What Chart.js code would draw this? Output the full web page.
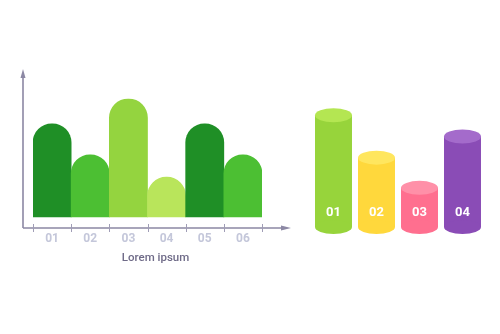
<!DOCTYPE html>
<html lang="en">
<head>
<meta charset="UTF-8">
<title>Bar infographic</title>
<script src="https://cdn.jsdelivr.net/npm/chart.js"></script>
<style>
    body {
        margin: 0;
        background: #fff;
        width: 500px;
        height: 334px;
        position: relative;
        overflow: hidden;
        font-family: Roboto, sans-serif;
    }
    .box { position: absolute; }
    #leftBox { left: 0; top: 60px; width: 300px; height: 210px; }
    #rightBox { left: 300px; top: 93px; width: 200px; height: 157px; }
</style>
</head>
<body>
<div class="box" id="leftBox"><canvas id="barChart"></canvas></div>
<div class="box" id="rightBox"><canvas id="cylChart"></canvas></div>
<script>
var barLabels = ['01', '02', '03', '04', '05', '06'];
var barValues = [75, 50, 95, 32, 75, 50];
var barColors = ['#1f8f26', '#4cbf33', '#94d43f', '#b9e55b', '#1f8f26', '#4cbf33'];
var axisTitle = 'Lorem ipsum';

var cylLabels = ['01', '02', '03', '04'];
var cylValues = [100, 62, 35, 81];
var cylColors = ['#97d43b', '#ffd83c', '#ff6f8f', '#8a4cb6'];
var cylTopColors = ['#b4e652', '#ffe65e', '#ff90a8', '#a46bcb'];

// axes with arrows, boundary ticks and labels for the left chart
var axisPlugin = {
    id: 'axisPlugin',
    afterDraw: function(chart) {
        var ctx = chart.ctx, a = chart.chartArea, xs = chart.scales.x;
        var ax = a.left - 10, ay = a.bottom;
        ctx.save();
        ctx.strokeStyle = '#8c88a4';
        ctx.fillStyle = '#8c88a4';
        ctx.lineWidth = 1.6;
        ctx.beginPath();
        ctx.moveTo(ax, ay);
        ctx.lineTo(ax, a.top + 8);
        ctx.moveTo(ax, ay);
        ctx.lineTo(a.right + 22, ay);
        ctx.stroke();
        // arrow heads
        ctx.beginPath();
        ctx.moveTo(ax, a.top + 1);
        ctx.lineTo(ax - 2.5, a.top + 10);
        ctx.lineTo(ax + 2.5, a.top + 10);
        ctx.closePath();
        ctx.fill();
        ctx.beginPath();
        ctx.moveTo(a.right + 29, ay);
        ctx.lineTo(a.right + 19, ay - 2.5);
        ctx.lineTo(a.right + 19, ay + 2.5);
        ctx.closePath();
        ctx.fill();
        // ticks between categories
        ctx.strokeStyle = '#a09db6';
        ctx.lineWidth = 1;
        for (var i = 0; i <= barLabels.length; i++) {
            var px = Math.round(xs.getPixelForValue(i - 0.5)) + 0.5;
            ctx.beginPath();
            ctx.moveTo(px, ay - 4);
            ctx.lineTo(px, ay + 4);
            ctx.stroke();
        }
        ctx.textAlign = 'center';
        ctx.textBaseline = 'middle';
        ctx.fillStyle = '#c4c7da';
        ctx.font = 'bold 12px Roboto, sans-serif';
        barLabels.forEach(function(lab, i) {
            ctx.fillText(lab, xs.getPixelForValue(i), ay + 11);
        });
        ctx.fillStyle = '#6f6b88';
        ctx.font = '500 11.5px Roboto, sans-serif';
        ctx.fillText(axisTitle, (a.left + a.right) / 2 + 8, ay + 30);
        ctx.restore();
    }
};

new Chart(document.getElementById('barChart'), {
    type: 'bar',
    data: {
        labels: barLabels,
        datasets: [{
            data: barValues,
            backgroundColor: barColors,
            borderWidth: 0,
            borderRadius: { topLeft: 19, topRight: 19 },
            borderSkipped: 'bottom',
            barPercentage: 1,
            categoryPercentage: 1
        }]
    },
    options: {
        responsive: true,
        maintainAspectRatio: false,
        animation: false,
        layout: { padding: { left: 33, right: 38, top: 8, bottom: 42 } },
        plugins: { legend: { display: false }, tooltip: { enabled: false } },
        scales: {
            x: { display: false, offset: true },
            y: { display: false, min: -9, max: 120 }
        }
    },
    plugins: [axisPlugin]
});

// ellipses on top and bottom of each bar turn it into a cylinder
var cylinderPlugin = {
    id: 'cylinderPlugin',
    afterDatasetsDraw: function(chart) {
        var ctx = chart.ctx;
        var meta = chart.getDatasetMeta(0);
        ctx.save();
        meta.data.forEach(function(bar, i) {
            var p = bar.getProps(['x', 'y', 'base', 'width'], true);
            var rx = p.width / 2, ry = 7;
            ctx.fillStyle = cylColors[i];
            ctx.beginPath();
            ctx.ellipse(p.x, p.base, rx, ry, 0, 0, Math.PI * 2);
            ctx.fill();
            ctx.fillStyle = cylTopColors[i];
            ctx.beginPath();
            ctx.ellipse(p.x, p.y, rx, ry, 0, 0, Math.PI * 2);
            ctx.fill();
            ctx.fillStyle = '#ffffff';
            ctx.font = 'bold 13px Roboto, sans-serif';
            ctx.textAlign = 'center';
            ctx.textBaseline = 'middle';
            ctx.fillText(cylLabels[i], p.x, p.base - 14);
        });
        ctx.restore();
    }
};

new Chart(document.getElementById('cylChart'), {
    type: 'bar',
    data: {
        labels: cylLabels,
        datasets: [{
            data: cylValues,
            backgroundColor: cylColors,
            borderWidth: 0,
            barPercentage: 0.86,
            categoryPercentage: 1
        }]
    },
    options: {
        responsive: true,
        maintainAspectRatio: false,
        animation: false,
        layout: { padding: { left: 12, right: 16, top: 11, bottom: 23 } },
        plugins: { legend: { display: false }, tooltip: { enabled: false } },
        scales: {
            x: { display: false },
            y: { display: false, min: 0, max: 110 }
        }
    },
    plugins: [cylinderPlugin]
});
</script>
</body>
</html>
